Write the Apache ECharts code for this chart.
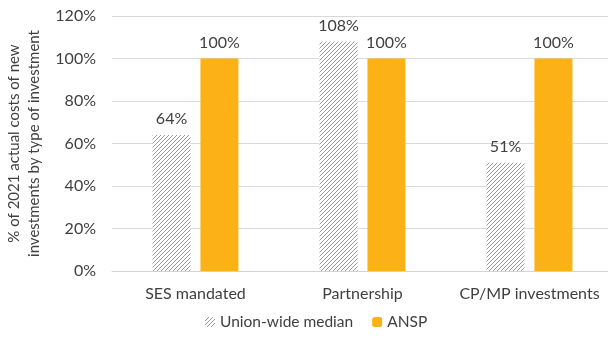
<!DOCTYPE html>
<html>
<head>
<meta charset="utf-8">
<script src="https://cdn.jsdelivr.net/npm/echarts@6/dist/echarts.min.js"></script>
<style>
  html, body { margin: 0; padding: 0; background: #fff; }
  #chart { width: 608px; height: 338px; }
</style>
</head>
<body>
<div id="chart"></div>
<script>
(function() {
  'use strict';

  // --- Data ---
  var categories = ['SES mandated', 'Partnership', 'CP/MP investments'];
  var unionMedian = [64, 108, 51];
  var ansp = [100, 100, 100];
  var yTicks = [0, 20, 40, 60, 80, 100, 120];

  var FONT = 'Lato, "Open Sans", sans-serif';
  var TEXT = '#404040';
  var FS = 16;

  // --- Hatch pattern (diagonal lines) ---
  function makeHatch() {
    var c = document.createElement('canvas');
    c.width = 4; c.height = 4;
    var ctx = c.getContext('2d');
    ctx.fillStyle = '#ffffff';
    ctx.fillRect(0, 0, 4, 4);
    ctx.strokeStyle = '#9a9a9a';
    ctx.lineWidth = 1;
    ctx.beginPath();
    ctx.moveTo(0, 4); ctx.lineTo(4, 0);
    ctx.moveTo(-1, 1); ctx.lineTo(1, -1);
    ctx.moveTo(3, 5); ctx.lineTo(5, 3);
    ctx.stroke();
    return c;
  }
  var hatch = { image: makeHatch(), repeat: 'repeat' };

  var chart = echarts.init(document.getElementById('chart'), null, { renderer: 'canvas' });

  var labelStyle = {
    show: true,
    position: 'top',
    distance: 8,
    fontSize: FS,
    fontFamily: FONT,
    color: TEXT,
    formatter: function(p) { return p.value + '%'; }
  };

  chart.setOption({
    animation: false,
    grid: { left: 112, right: -5, top: 16, bottom: 67, outerBoundsMode: 'none', containLabel: false },
    legend: {
      bottom: 3,
      left: 200,
      itemWidth: 10,
      itemHeight: 10,
      itemGap: 19,
      itemTextGap: 5,
      textStyle: { fontSize: 15.5, fontFamily: FONT, color: TEXT },
      data: ['Union-wide median', 'ANSP']
    },
    xAxis: {
      type: 'category',
      data: categories,
      axisLine: { lineStyle: { color: '#c5d6ec', width: 1 } },
      axisTick: { show: false },
      axisLabel: { interval: 0, fontSize: FS, fontFamily: FONT, color: TEXT, margin: 15 }
    },
    yAxis: {
      type: 'value',
      min: yTicks[0],
      max: yTicks[yTicks.length - 1],
      interval: 20,
      name: '% of 2021 actual costs of new\ninvestments by type of investment',
      nameLocation: 'middle',
      nameGap: 64,
      nameTextStyle: { fontSize: 15, fontFamily: FONT, color: TEXT, lineHeight: 20 },
      axisLine: { show: false },
      axisTick: { show: false },
      splitLine: { lineStyle: { color: '#d9d9d9', width: 1 } },
      axisLabel: {
        fontSize: FS, fontFamily: FONT, color: TEXT, margin: 16,
        formatter: function(v) { return v + '%'; }
      }
    },
    series: [
      {
        name: 'Union-wide median',
        type: 'bar',
        data: unionMedian,
        barWidth: 38,
        barGap: '26%',
        itemStyle: { color: hatch },
        label: labelStyle
      },
      {
        name: 'ANSP',
        type: 'bar',
        data: ansp,
        barWidth: 38,
        itemStyle: { color: '#fcb117' },
        label: labelStyle
      }
    ]
  });
})();
</script>
</body>
</html>
